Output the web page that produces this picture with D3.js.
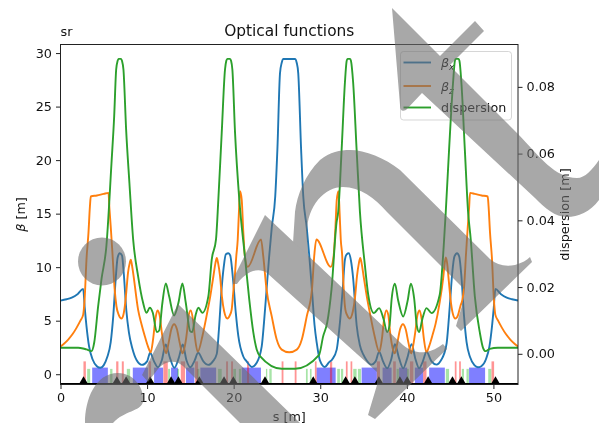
<!DOCTYPE html>
<html>
<head>
<meta charset="utf-8">
<script src="https://cdn.jsdelivr.net/npm/d3@7"></script>
<style>
  html, body { margin: 0; padding: 0; background: #fff; }
  svg { display: block; filter: blur(0.35px); }
  text { font-family: "DejaVu Sans", sans-serif; fill: #111; }
</style>
</head>
<body>
<div id="chart"></div>
<script>
// Values: [s, value]
var betaX = [[0,6.88],[0.7,7],[1.3,7.16],[2,7.5],[2.62,7.97],[2.8,6.2],[3,4.5],[3.3,2.6],[3.7,1.4],[4.2,0.75],[4.6,0.6],[5,0.85],[5.4,1.6],[5.8,3],[6.1,5.5],[6.4,9.2],[6.6,10.9],[6.85,11.3],[7.1,11.1],[7.3,9.5],[7.6,6],[7.9,3.9],[8.3,2.4],[8.8,1.3],[9.4,0.87],[10,1.2],[10.35,2],[10.8,1.2],[11.25,0.65],[11.7,1.3],[12.15,2.77],[12.65,1.5],[13.15,0.6],[13.65,1.5],[14.12,2.77],[14.55,1.3],[15,0.65],[15.45,1.2],[15.9,2],[16.5,1.2],[17.08,0.87],[17.6,1.2],[18.05,1.9],[18.3,4.2],[18.6,7.9],[18.85,10],[19.1,11.2],[19.4,11.3],[19.6,11.1],[19.96,8.55],[20.25,5.7],[20.54,3.55],[21.1,1.68],[21.5,1.2],[22.1,0.68],[22.66,1.07],[23.24,2.6],[23.5,4.8],[23.8,7.9],[24.1,11],[24.4,13.7],[24.8,16.6],[25.05,21],[25.35,28.1],[25.55,29.1],[25.75,29.45],[27.08,29.45],[27.28,29.1],[27.46,28.1],[27.79,21],[28.04,16.6],[28.44,13.7],[28.74,11],[29.04,7.9],[29.34,4.6],[29.6,2.9],[29.96,1.3],[30.54,0.68],[31,1.1],[31.4,1.4],[31.9,2.3],[32.27,4.8],[32.6,8],[32.85,10.7],[33.05,11.2],[33.3,11.3],[33.55,10.6],[33.8,8.96],[34.2,4.6],[34.58,2.7],[35,1.8],[35.35,1.3],[35.9,0.9],[36.4,1.2],[36.8,2.1],[37.25,1.2],[37.73,0.56],[38.2,1.4],[38.62,2.8],[39.1,1.5],[39.58,0.56],[40.05,1.5],[40.55,2.8],[41,1.4],[41.42,0.56],[41.85,1.2],[42.27,2.1],[42.85,1.2],[43.43,0.9],[44,1.37],[44.3,1.9],[44.6,2.9],[44.96,6.35],[45.25,9.5],[45.5,11],[45.8,11.3],[46.05,11],[46.3,9.2],[46.6,5.5],[46.9,3],[47.3,1.6],[47.8,0.85],[48.2,0.65],[48.6,0.75],[49.14,1.4],[49.54,2.6],[49.84,4.5],[50.04,6.2],[50.22,7.97],[50.84,7.5],[51.54,7.16],[52.14,7],[52.84,6.88]];

var betaZ = [[0,2.6],[0.4,2.85],[0.89,3.24],[1.4,3.75],[1.85,4.33],[2.3,5],[2.62,5.57],[2.8,7.2],[3,10.7],[3.23,13.2],[3.4,15.7],[3.5,16.6],[4.2,16.7],[5,16.85],[5.54,16.94],[5.65,15.5],[5.8,13.8],[6,11.3],[6.25,8],[6.46,6.35],[6.75,5.5],[7.04,5.2],[7.25,5.5],[7.43,6.35],[7.6,7.7],[7.8,9.5],[8,10.4],[8.12,10.7],[8.25,10.2],[8.39,9.47],[8.96,6.04],[9.35,4.7],[9.74,3.55],[10.1,2.6],[10.42,2.05],[10.7,3.3],[10.95,5.1],[11.2,5.95],[11.45,5.5],[11.7,3.9],[12,2.4],[12.2,1.95],[12.5,3],[12.8,4.2],[13.12,4.67],[13.45,4.2],[13.75,3],[14.08,1.95],[14.3,2.4],[14.6,3.9],[14.8,5.5],[15.04,5.95],[15.3,5.1],[15.55,3.3],[15.85,2.1],[16.4,3.6],[16.9,5.57],[17.3,7.3],[17.66,9.15],[17.9,10.4],[18.05,10.87],[18.2,10.4],[18.43,9.15],[18.65,7.2],[18.9,5.88],[19.27,5.2],[19.55,5.5],[19.77,6.04],[19.97,7.8],[20.16,9.47],[20.3,11],[20.47,12.58],[20.6,15],[20.73,17.1],[20.93,16.3],[21.1,13.5],[21.3,11],[21.62,10.03],[23.16,12.58],[23.42,11],[23.8,7.9],[24.4,5.4],[24.97,3.24],[25.55,2.3],[26.42,2.05],[27.29,2.3],[27.87,3.24],[28.44,5.4],[29.04,7.9],[29.3,11],[29.55,12.58],[31.22,10.03],[31.54,11],[31.74,13.5],[31.91,16.3],[32.11,17.1],[32.24,15],[32.37,12.58],[32.54,11],[32.62,9.47],[32.72,7.8],[32.9,6.04],[33.12,5.5],[33.4,5.2],[33.77,5.88],[34.02,7.2],[34.24,9.15],[34.47,10.4],[34.62,10.87],[34.77,10.4],[35.01,9.15],[35.37,7.3],[35.77,5.57],[36.27,3.6],[36.82,2.1],[37.12,3.3],[37.37,5.1],[37.63,5.95],[37.87,5.5],[38.07,3.9],[38.37,2.4],[38.6,1.95],[38.92,3],[39.22,4.2],[39.55,4.67],[39.87,4.2],[40.17,3],[40.5,1.95],[40.67,2.4],[40.97,3.9],[41.22,5.5],[41.47,5.95],[41.72,5.1],[41.97,3.3],[42.27,2.05],[42.57,2.6],[42.93,3.55],[43.32,4.7],[43.75,6.5],[44.2,9],[44.35,10.2],[44.5,10.9],[44.65,10.4],[44.85,8.7],[45.05,7],[45.3,5.7],[45.6,5.2],[45.9,5.5],[46.2,6.4],[46.4,6.9],[46.6,8],[46.84,11.3],[47.04,13.8],[47.19,15.5],[47.3,16.94],[47.84,16.85],[48.64,16.7],[49.34,16.6],[49.44,15.7],[49.61,13.2],[49.84,10.7],[50.04,7.2],[50.22,5.57],[50.54,5],[50.99,4.33],[51.44,3.75],[51.95,3.24],[52.44,2.85],[52.84,2.6]];

var dispersion = [[0,0.0018],[1,0.0018],[2.04,0.0018],[2.6,0.0016],[3,0.0013],[3.58,0.0008],[3.89,0.0033],[4.35,0.0143],[4.73,0.0223],[5.3,0.0323],[5.89,0.0572],[6.2,0.0712],[6.43,0.0852],[6.6,0.0878],[6.7,0.0884],[7,0.0884],[7.1,0.0878],[7.27,0.0852],[7.58,0.0672],[7.96,0.0512],[8.39,0.0343],[8.96,0.0233],[9.54,0.0153],[9.93,0.0123],[10.31,0.0138],[10.66,0.0123],[11.12,0.0065],[11.4,0.007],[11.77,0.0153],[12.16,0.0211],[12.54,0.0173],[13.12,0.0115],[13.62,0.0153],[14.08,0.0211],[14.47,0.0153],[14.97,0.0068],[15.2,0.0065],[15.62,0.0118],[15.93,0.0138],[16.38,0.0123],[17.08,0.0173],[17.47,0.0283],[17.96,0.0343],[18.23,0.0462],[18.62,0.0662],[19,0.0852],[19.15,0.0878],[19.27,0.0884],[19.58,0.0884],[19.7,0.0878],[19.85,0.0852],[20.16,0.0662],[20.65,0.0462],[21.3,0.0292],[21.8,0.0163],[22.27,0.0064],[22.66,0.0013],[23.04,-0.0007],[25.55,-0.0045],[27.08,-0.0045],[29.85,-0.0004],[30.34,0.0053],[30.8,0.0093],[31.3,0.0193],[31.88,0.0393],[32.08,0.0427],[32.47,0.0612],[32.85,0.0813],[33.05,0.0878],[33.15,0.0884],[33.45,0.0884],[33.55,0.0878],[33.8,0.0813],[34.2,0.0612],[34.58,0.0427],[35.15,0.0267],[35.54,0.0177],[36.2,0.0122],[36.8,0.0137],[37.3,0.0105],[37.73,0.0065],[38,0.0085],[38.25,0.0165],[38.62,0.021],[39,0.016],[39.58,0.0112],[40.1,0.016],[40.46,0.021],[40.85,0.0165],[41.15,0.0085],[41.42,0.0065],[41.8,0.0105],[42.27,0.0137],[42.85,0.0122],[43.8,0.0177],[44.27,0.0327],[44.5,0.0427],[44.88,0.0612],[45.34,0.0813],[45.55,0.0878],[45.65,0.0884],[45.98,0.0884],[46.08,0.0878],[46.3,0.0813],[46.7,0.0612],[47.07,0.0427],[47.38,0.0343],[47.85,0.0173],[48.43,0.0064],[48.8,0.0018],[49.1,0.0008],[49.58,0.0015],[50.5,0.0018],[52.84,0.0018]];

// Lattice elements along s
var dipoles = [[3.66,5.47],[8.35,10.1],[10.81,11.85],[12.77,13.55],[14.5,15.46],[16.15,17.97],[20.93,23.15],[29.58,31.78],[34.78,36.54],[37.2,38.24],[39.11,40.04],[40.93,41.88],[42.58,44.39],[47.19,49.04]];
var quadrupoles = [[2.65,2.93],[6.43,6.69],[7.08,7.31],[10.18,10.46],[11.88,12.39],[13.89,14.39],[15.54,15.89],[19.12,19.35],[19.7,19.93],[21.54,21.78],[25.54,25.75],[27.05,27.26],[29.38,29.58],[31.12,31.38],[32.96,33.16],[33.5,33.7],[36.54,36.9],[38.42,38.73],[40.36,40.75],[41.88,42.27],[45.54,45.74],[46.04,46.24],[49.78,50.08]];
var sextupoles = [[3.08,3.43],[5.73,6],[7.66,8.04],[12.43,12.66],[13.46,13.7],[15.74,16.04],[18.2,18.62],[19.96,20.27],[20.6,20.85],[23.73,23.88],[24.12,24.39],[28.35,28.55],[28.81,29],[31.96,32.27],[32.39,32.65],[33.81,34.2],[34.35,34.7],[38.82,39.08],[40,40.23],[44.5,44.88],[46.35,46.6],[46.89,47.16],[49.4,49.76]];
var markers = [2.66,6.51,7.58,10.35,12.77,13.62,16.04,18.89,19.96,23.62,29.19,32.93,34,36.77,39.2,40.04,42.46,45.27,46.3,50.24];

var xTicks = [0,10,20,30,40,50];
var yTicks = [0,5,10,15,20,25,30];
var dispTicks = [0,0.02,0.04,0.06,0.08];

// Set the dimensions of the canvas / graph
var svgWidth = 599, svgHeight = 423;
var left = 60.5, right = 518, top_ = 44.5, bottom = 384.5;

var xRange = d3.scaleLinear().domain([0, 52.84]).range([left, right]);
var yRange = d3.scaleLinear().domain([-0.96, 30.8]).range([bottom, top_]);
var dispRange = d3.scaleLinear().domain([-0.0092, 0.0927]).range([bottom, top_]);

var svg = d3.select("#chart").append("svg")
  .attr("width", svgWidth)
  .attr("height", svgHeight);

svg.append("defs").append("clipPath").attr("id", "plot")
  .append("rect")
  .attr("x", left).attr("y", top_)
  .attr("width", right - left).attr("height", bottom - top_);

var plot = svg.append("g").attr("clip-path", "url(#plot)");

// Lattice at the bottom
function addElements(list, topValue, color, alpha) {
  plot.selectAll(null)
    .data(list)
    .enter().append("rect")
    .attr("x", function (d) { return xRange(d[0]); })
    .attr("width", function (d) { return xRange(d[1]) - xRange(d[0]); })
    .attr("y", yRange(topValue))
    .attr("height", bottom - yRange(topValue))
    .attr("fill", color)
    .attr("opacity", alpha);
}
addElements(sextupoles, 0.5, "#22bb22", 0.4);
addElements(dipoles, 0.62, "#0000ff", 0.5);
addElements(quadrupoles, 1.2, "#ff0000", 0.42);

plot.append("line")
  .attr("x1", left).attr("x2", right)
  .attr("y1", bottom - 0.5).attr("y2", bottom - 0.5)
  .attr("stroke", "#000").attr("stroke-width", 2);

plot.selectAll(null)
  .data(markers)
  .enter().append("path")
  .attr("d", d3.symbol().type(d3.symbolTriangle).size(42))
  .attr("transform", function (d) { return "translate(" + xRange(d) + "," + (bottom - 2.5) + ")"; })
  .attr("fill", "#000");

// Define the lines
var lineLeft = d3.line()
  .x(function (d) { return xRange(d[0]); })
  .y(function (d) { return yRange(d[1]); })
  .curve(d3.curveMonotoneX);
var lineRight = d3.line()
  .x(function (d) { return xRange(d[0]); })
  .y(function (d) { return dispRange(d[1]); })
  .curve(d3.curveMonotoneX);

function addCurve(target, data, gen, color) {
  target.append("path")
    .attr("d", gen(data))
    .attr("fill", "none")
    .attr("stroke", color)
    .attr("stroke-width", 1.9)
    .attr("stroke-linejoin", "round");
}
addCurve(plot, betaX, lineLeft, "#1f77b4");
addCurve(plot, betaZ, lineLeft, "#ff7f0e");

// Legend belongs to the left axes, so the green line passes over it
var legend = svg.append("g");
legend.append("rect")
  .attr("x", 400.5).attr("y", 51.5)
  .attr("width", 111).attr("height", 68.5)
  .attr("rx", 3)
  .attr("fill", "#fff").attr("fill-opacity", 0.8)
  .attr("stroke", "#ccc").attr("stroke-opacity", 0.8);

var legendRows = [
  { color: "#1f77b4", y: 62.5, name: "β", sub: "x" },
  { color: "#ff7f0e", y: 86, name: "β", sub: "z" },
  { color: "#2ca02c", y: 107.5, name: "dispersion", sub: null }
];
legendRows.forEach(function (d) {
  legend.append("line")
    .attr("x1", 403.5).attr("x2", 431)
    .attr("y1", d.y).attr("y2", d.y)
    .attr("stroke", d.color).attr("stroke-width", 1.9);
  var t = legend.append("text")
    .attr("x", 441).attr("y", d.y + 4.5)
    .attr("font-size", 12.7);
  if (d.sub) {
    t.append("tspan").attr("font-style", "italic").text(d.name);
    t.append("tspan").attr("font-style", "italic").attr("font-size", 9).attr("dy", 3).text(d.sub);
  } else {
    t.text(d.name);
  }
});

var plot2 = svg.append("g").attr("clip-path", "url(#plot)");
addCurve(plot2, dispersion, lineRight, "#2ca02c");

// Add the axes
var xAxis = d3.axisBottom(xRange).tickValues(xTicks).tickSize(4.5).tickPadding(4);
var yAxis = d3.axisLeft(yRange).tickValues(yTicks).tickSize(4.5).tickPadding(4);
var dispAxis = d3.axisRight(dispRange).tickValues(dispTicks).tickSize(4.5).tickPadding(4)
  .tickFormat(d3.format(".2f"));

function styleAxis(g) {
  g.select(".domain").remove();
  g.selectAll("text").attr("font-size", 12.8).attr("font-family", '"DejaVu Sans", sans-serif').attr("fill", "#111");
  g.selectAll("line").attr("stroke", "#222");
}
svg.append("g").attr("transform", "translate(0," + bottom + ")").call(xAxis).call(styleAxis);
svg.append("g").attr("transform", "translate(" + left + ",0)").call(yAxis).call(styleAxis);
svg.append("g").attr("transform", "translate(" + right + ",0)").call(dispAxis).call(styleAxis);

svg.append("rect")
  .attr("x", left).attr("y", top_)
  .attr("width", right - left).attr("height", bottom - top_)
  .attr("fill", "none")
  .attr("stroke", "#222").attr("stroke-width", 1);

// Titles and labels
svg.append("text")
  .attr("x", (left + right) / 2).attr("y", 36)
  .attr("text-anchor", "middle").attr("font-size", 15.4)
  .text("Optical functions");
svg.append("text")
  .attr("x", left).attr("y", 36)
  .attr("font-size", 12.8)
  .text("sr");
svg.append("text")
  .attr("x", (left + right) / 2).attr("y", 421)
  .attr("text-anchor", "middle").attr("font-size", 12.8)
  .text("s [m]");

var yLabel = svg.append("text")
  .attr("transform", "translate(25," + ((top_ + bottom) / 2) + ") rotate(-90)")
  .attr("text-anchor", "middle").attr("font-size", 12.8);
yLabel.append("tspan").attr("font-style", "italic").text("β");
yLabel.append("tspan").text(" [m]");

svg.append("text")
  .attr("transform", "translate(569," + ((top_ + bottom) / 2) + ") rotate(-90)")
  .attr("text-anchor", "middle").attr("font-size", 12.8)
  .text("dispersion [m]");

// Gray strokes lying over the whole picture
var overlayPaths = [
  "M392,8 L440,56 L475,21 L484,31 L449.5,65.5 L518,134 C540,157 555,178 577,178 C585,178 592,170 599,160 L599,200 C590,212 578,217 567,217 C555,217 545,208 535,198 L422,93 L406,110 Q400,113 400,105 Z",
  "M293,243 L295,212 C297,195 305,175 320,160 C330,152 340,150 350,150 C365,150 385,158 400,170 L490,259 C497,265 505,267 515,265 C522,263 527,260 530,257 L532,262 L461,331 L456,326 L464,299 L464,289 L387,212 C375,198 360,187 343,187 C325,187 307,205 307,233 L308,253 L310,265 Z",
  "M265,215 L403,345 C410,351 418,353 425,352 C432,351 438,348 443,344 L447,349 L375,419 L368,415 L377,385 L377,372 L267,273 C260,268 248,269 237,284 L233,284 L235,275 Z",
  "M178,304 L300,423 L240,423 L183,366 C176,360 166,360 158,369 L148,382 L142,375 Z",
  "M85,423 C85,400 95,373 118,373 C135,373 145,390 143,402 C140,412 125,410 113,423 Z"
];
var overlay = svg.append("g").attr("opacity", 0.6);
overlay.selectAll("path")
  .data(overlayPaths)
  .enter().append("path")
  .attr("d", function (d) { return d; })
  .attr("fill", "#6e6e6e");
overlay.append("circle")
  .attr("cx", 102).attr("cy", 261.5).attr("r", 24)
  .attr("fill", "#6e6e6e");
</script>
</body>
</html>
